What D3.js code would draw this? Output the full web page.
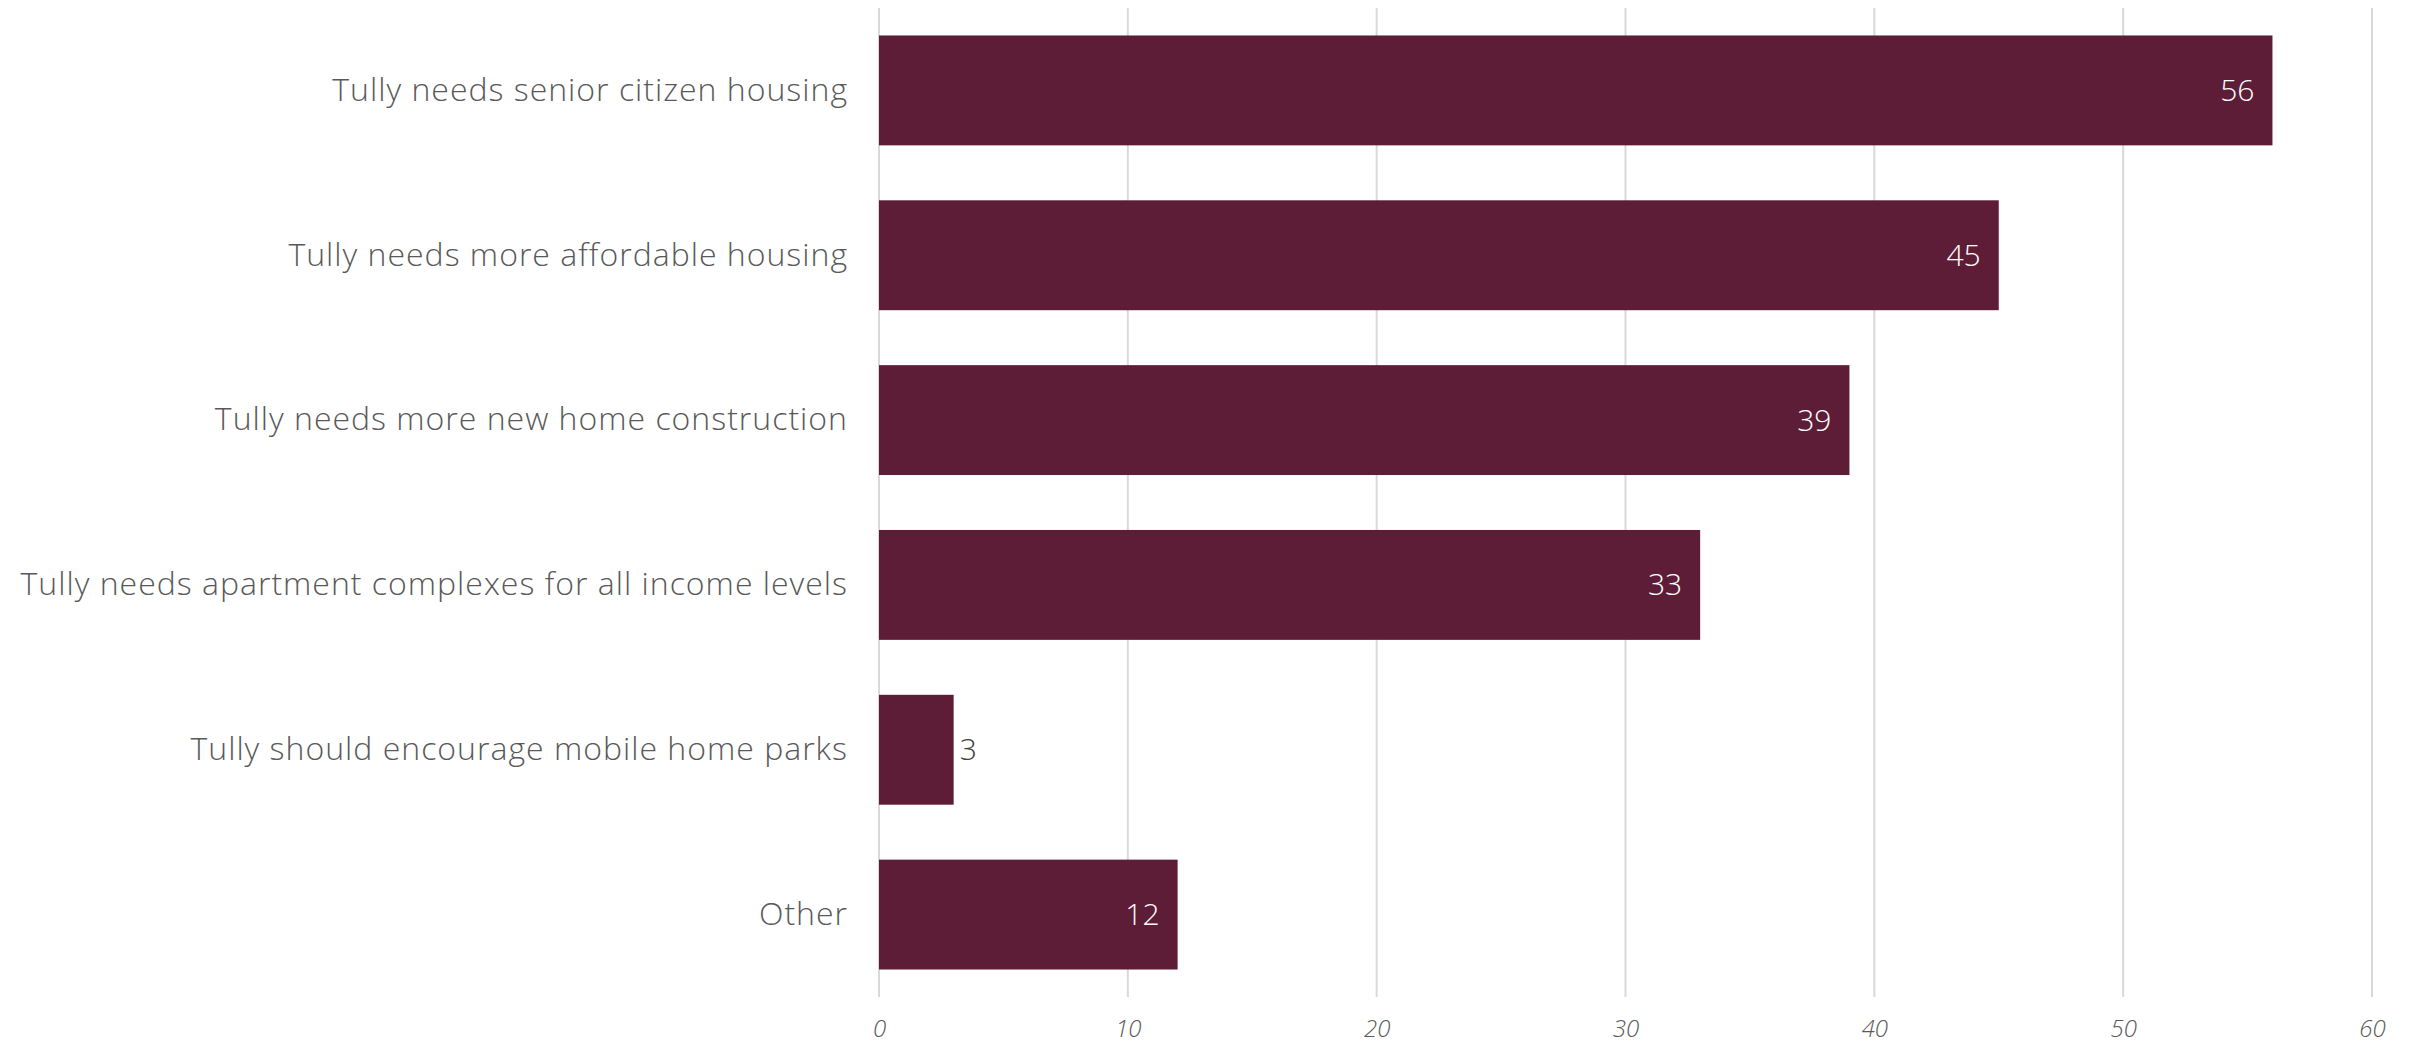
<!DOCTYPE html>
<html>
<head>
<meta charset="utf-8">
<script src="https://cdn.jsdelivr.net/npm/d3@7"></script>
<style>
  html, body { margin: 0; padding: 0; background: #ffffff; }
  svg { display: block; }
</style>
</head>
<body>
<svg id="chart" width="2418" height="1045"></svg>
<script>
// Survey responses on housing in Tully
const categories = [
  "Tully needs senior citizen housing",
  "Tully needs more affordable housing",
  "Tully needs more new home construction",
  "Tully needs apartment complexes for all income levels",
  "Tully should encourage mobile home parks",
  "Other"
];
const values = [56, 45, 39, 33, 3, 12];
const xTicks = [0, 10, 20, 30, 40, 50, 60];

const svg = d3.select("#chart");
const plot = { left: 879, right: 2372, top: 8, bottom: 997 };

const FONT = "'Open Sans', Lato, sans-serif";
const barColor = "#5e1d36";
const textGray = "#595959";

const x = d3.scaleLinear()
  .domain([0, 60])
  .range([plot.left, plot.right]);

const y = d3.scaleBand()
  .domain(categories)
  .range([plot.top, plot.bottom])
  .paddingInner(1 / 3)
  .paddingOuter(1 / 6);

// vertical gridlines
svg.append("g")
  .selectAll("line")
  .data(xTicks)
  .join("line")
  .attr("x1", d => x(d))
  .attr("x2", d => x(d))
  .attr("y1", plot.top)
  .attr("y2", plot.bottom)
  .attr("stroke", "#d9d9d9")
  .attr("stroke-width", 2);

// bottom axis labels
const xAxis = d3.axisBottom(x)
  .tickValues(xTicks)
  .tickSize(0)
  .tickPadding(0)
  .tickFormat(d3.format("d"));

const gx = svg.append("g")
  .attr("transform", `translate(0,${plot.bottom})`)
  .call(xAxis);
gx.select(".domain").remove();
gx.selectAll("text")
  .attr("y", 40)
  .attr("dy", 0)
  .attr("font-family", FONT)
  .attr("font-style", "italic")
  .attr("font-weight", 300)
  .attr("font-size", 24)
  .attr("fill", textGray);

// category labels
const yAxis = d3.axisLeft(y).tickSize(0).tickPadding(0);
const gy = svg.append("g")
  .attr("transform", `translate(${plot.left - 31},0)`)
  .call(yAxis);
gy.select(".domain").remove();
gy.selectAll("text")
  .attr("font-family", FONT)
  .attr("font-weight", 300)
  .attr("font-size", 32)
  .attr("letter-spacing", 1)
  .attr("fill", textGray);

// bars
svg.append("g")
  .selectAll("rect")
  .data(values)
  .join("rect")
  .attr("x", x(0))
  .attr("y", (d, i) => y(categories[i]))
  .attr("width", d => x(d) - x(0))
  .attr("height", y.bandwidth())
  .attr("fill", barColor);

// value labels: inside the bar end, or just outside for short bars
svg.append("g")
  .selectAll("text")
  .data(values)
  .join("text")
  .attr("x", d => (x(d) - x(0) > 80 ? x(d) - 18 : x(d) + 6))
  .attr("y", (d, i) => y(categories[i]) + y.bandwidth() / 2)
  .attr("dy", "0.35em")
  .attr("text-anchor", d => (x(d) - x(0) > 80 ? "end" : "start"))
  .attr("font-family", FONT)
  .attr("font-weight", 300)
  .attr("font-size", 30)
  .attr("fill", d => (x(d) - x(0) > 80 ? "#ffffff" : "#404040"))
  .text(d => d);
</script>
</body>
</html>
